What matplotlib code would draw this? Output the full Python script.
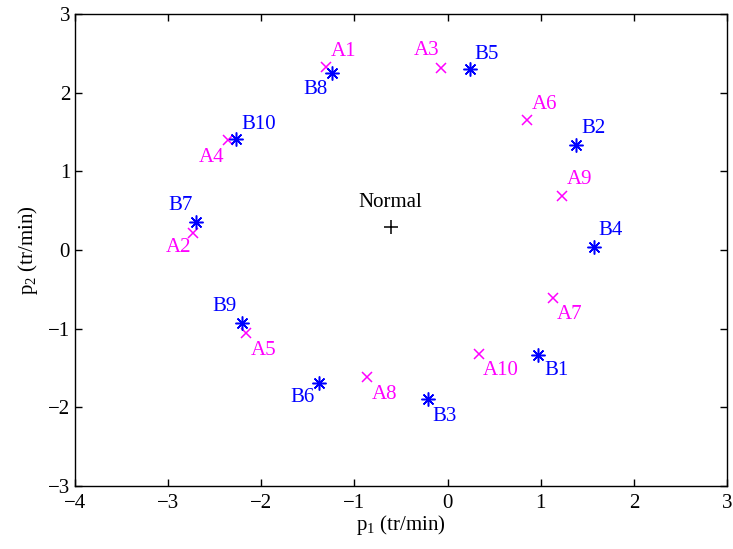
import matplotlib
matplotlib.use('Agg')
import matplotlib.pyplot as plt

# data
a_labels = ['A1', 'A2', 'A3', 'A4', 'A5', 'A6', 'A7', 'A8', 'A9', 'A10']
a_x = [-1.30, -2.73, -0.07, -2.36, -2.16, 0.85, 1.13, -0.87, 1.23, 0.34]
a_y = [2.33, 0.22, 2.31, 1.40, -1.05, 1.65, -0.61, -1.61, 0.69, -1.32]

b_labels = ['B1', 'B2', 'B3', 'B4', 'B5', 'B6', 'B7', 'B8', 'B9', 'B10']
b_x = [0.97, 1.38, -0.21, 1.575, 0.24, -1.38, -2.70, -1.24, -2.21, -2.27]
b_y = [-1.34, 1.33, -1.90, 0.04, 2.30, -1.69, 0.36, 2.25, -0.93, 1.41]

normal_x = [-0.61]
normal_y = [0.29]

# label placement (pixel offset, ha, va)
a_pos = {
    'A1': (4, 6, 'left', 'bottom'),
    'A2': (-2, -5, 'right', 'top'),
    'A3': (-2, 8, 'right', 'bottom'),
    'A4': (-3, -8, 'right', 'top'),
    'A5': (4, -8, 'left', 'top'),
    'A6': (5, 6, 'left', 'bottom'),
    'A7': (4, -7, 'left', 'top'),
    'A8': (5, -8, 'left', 'top'),
    'A9': (5, 7, 'left', 'bottom'),
    'A10': (4, -7, 'left', 'top'),
}
b_pos = {
    'B1': (6, -6, 'left', 'top'),
    'B2': (5, 7, 'left', 'bottom'),
    'B3': (4, -8, 'left', 'top'),
    'B4': (4, 7, 'left', 'bottom'),
    'B5': (4, 5, 'left', 'bottom'),
    'B6': (-4, -5, 'right', 'top'),
    'B7': (-3, 7, 'right', 'bottom'),
    'B8': (-4, -7, 'right', 'top'),
    'B9': (-5, 7, 'right', 'bottom'),
    'B10': (5, 5, 'left', 'bottom'),
}

plt.rcParams['font.family'] = ['Liberation Serif', 'DejaVu Serif']
plt.rcParams['mathtext.fontset'] = 'custom'
plt.rcParams['mathtext.rm'] = 'Liberation Serif'
plt.rcParams['mathtext.it'] = 'Liberation Serif'
plt.rcParams['font.size'] = 15

fig = plt.figure(figsize=(7.33, 5.49), dpi=100)
ax = fig.add_axes([0.1023, 0.1148, 0.8895, 0.8597])

magenta = (1, 0, 1)
blue = (0, 0, 1)
asterisk = (8, 2, 0)

ax.plot(a_x, a_y, linestyle='none', marker='x', color=magenta, markersize=7, markeredgewidth=1.1)
ax.plot(b_x, b_y, linestyle='none', marker=asterisk, color=blue, markersize=10, markeredgewidth=1.1)
ax.plot(normal_x, normal_y, linestyle='none', marker='+', color='k', markersize=10, markeredgewidth=1.1)

for lab, x, y in zip(a_labels, a_x, a_y):
    dx, dy, ha, va = a_pos[lab]
    ax.annotate(lab, (x, y), xytext=(dx, dy), textcoords='offset pixels',
                ha=ha, va=va, color=magenta, fontsize=15)
for lab, x, y in zip(b_labels, b_x, b_y):
    dx, dy, ha, va = b_pos[lab]
    ax.annotate(lab, (x, y), xytext=(dx, dy), textcoords='offset pixels',
                ha=ha, va=va, color=blue, fontsize=15)
ax.annotate('Normal', (normal_x[0], normal_y[0]), xytext=(0, 15), textcoords='offset pixels',
            ha='center', va='bottom', color='k', fontsize=15)

ax.set_xlim(-4, 3)
ax.set_ylim(-3, 3)
ax.set_xticks(range(-4, 4))
ax.set_yticks(range(-3, 4))
ax.tick_params(direction='in', top=True, right=True, length=5, width=1, labelsize=15)
ax.tick_params(axis='x', pad=6)
for s in ax.spines.values():
    s.set_linewidth(1.0)

ax.set_xlabel('p$_1$ (tr/min)', fontsize=15, labelpad=0)
ax.set_ylabel('p$_2$ (tr/min)', fontsize=15, labelpad=6)

fig.savefig('out.png', dpi=100)
